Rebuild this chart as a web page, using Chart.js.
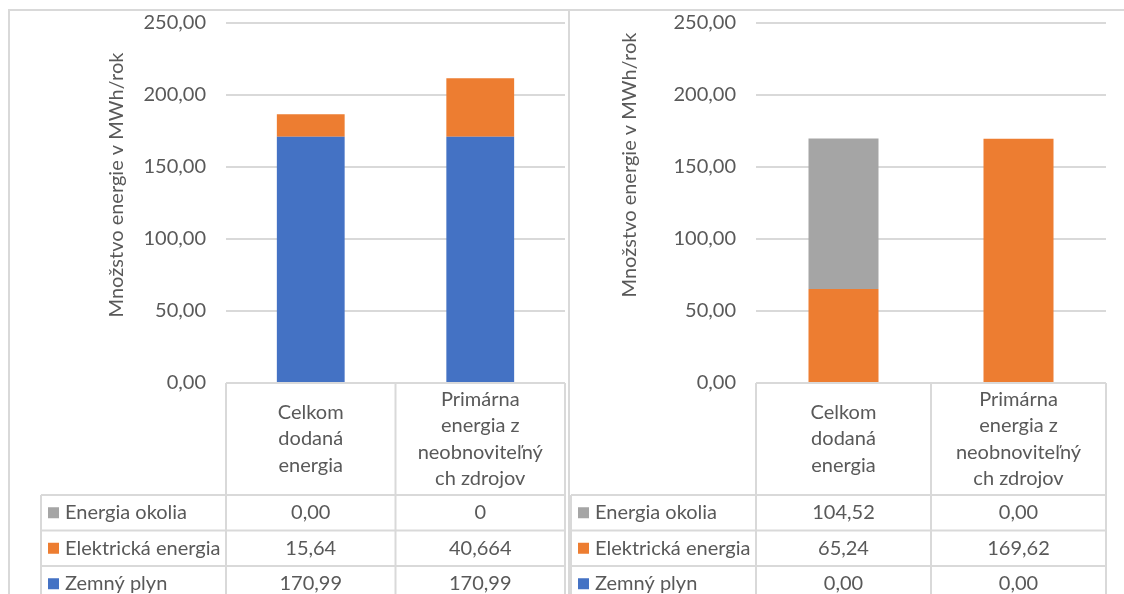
<!DOCTYPE html>
<html>
<head>
<meta charset="utf-8">
<script src="https://cdn.jsdelivr.net/npm/chart.js@4"></script>
<style>
  html, body { margin: 0; padding: 0; background: #fff; }
  #wrap { position: relative; width: 1124px; height: 594px; overflow: hidden; }
  .box { position: absolute; top: 0; height: 594px; }
  #boxLeft { left: 0; width: 568px; }
  #boxRight { left: 568px; width: 556px; }
</style>
</head>
<body>
<div id="wrap">
  <div class="box" id="boxLeft"><canvas id="leftChart"></canvas></div>
  <div class="box" id="boxRight"><canvas id="rightChart"></canvas></div>
</div>
<script>
const categories = [
  ["Celkom", "dodaná", "energia"],
  ["Primárna", "energia z", "neobnoviteľný", "ch zdrojov"],
];
const seriesNames = ["Zemný plyn", "Elektrická energia", "Energia okolia"];
const seriesColors = ["#4472C4", "#ED7D31", "#A5A5A5"];
const yTicks = [0, 50, 100, 150, 200, 250];
const axisTitle = "Množstvo energie v MWh/rok";

// lavy graf
const leftZemny = [170.99, 170.99];
const leftElektricka = [15.64, 40.664];
const leftOkolie = [0, 0];
const leftZemnyText = ["170,99", "170,99"];
const leftElektrickaText = ["15,64", "40,664"];
const leftOkolieText = ["0,00", "0"];

// pravy graf
const rightZemny = [0, 0];
const rightElektricka = [65.24, 169.62];
const rightOkolie = [104.52, 0];
const rightZemnyText = ["0,00", "0,00"];
const rightElektrickaText = ["65,24", "169,62"];
const rightOkolieText = ["104,52", "0,00"];

const FONT = "Lato, 'Open Sans', sans-serif";
const FONT_SIZE = 20;
const TEXT_COLOR = "#595959";
const LINE_COLOR = "#D9D9D9";

const tablePlugin = {
  id: "dataTable",
  beforeDraw(chart, args, opts) {
    const ctx = chart.ctx;
    ctx.save();
    ctx.strokeStyle = LINE_COLOR;
    ctx.lineWidth = 2;
    ctx.beginPath();
    ctx.moveTo(opts.frameLeft, 600);
    ctx.lineTo(opts.frameLeft, 10);
    ctx.lineTo(opts.frameRight, 10);
    ctx.stroke();
    ctx.restore();
  },
  afterDraw(chart, args, opts) {
    const ctx = chart.ctx;
    const area = chart.chartArea;
    const x = chart.scales.x;
    const n = chart.data.labels.length;
    const colW = (area.right - area.left) / n;
    const headTop = area.bottom;
    const headBottom = headTop + 112;
    const rowH = 35.5;
    const rowsBottom = headBottom + rowH * 3;

    ctx.save();
    ctx.strokeStyle = LINE_COLOR;
    ctx.lineWidth = 2;
    ctx.beginPath();
    // hlavicka
    ctx.moveTo(area.left, headTop);
    ctx.lineTo(area.right, headTop);
    for (let i = 0; i <= n; i++) {
      const cx = area.left + i * colW;
      ctx.moveTo(cx, headTop);
      ctx.lineTo(cx, rowsBottom + 10);
    }
    // riadky
    for (let r = 0; r <= 3; r++) {
      const y = headBottom + r * rowH;
      ctx.moveTo(opts.labelLeft, y);
      ctx.lineTo(area.right, y);
    }
    ctx.moveTo(opts.labelLeft, headBottom);
    ctx.lineTo(opts.labelLeft, rowsBottom + 10);
    ctx.stroke();

    ctx.fillStyle = TEXT_COLOR;
    ctx.font = FONT_SIZE + "px " + FONT;
    ctx.textBaseline = "middle";
    ctx.textAlign = "center";

    // nazvy kategorii
    const lineH = 26.5;
    chart.data.labels.forEach((lines, i) => {
      const cx = x.getPixelForValue(i);
      const mid = (headTop + headBottom) / 2;
      const start = mid - (lines.length - 1) * lineH / 2;
      lines.forEach((t, k) => ctx.fillText(t, cx, start + k * lineH));
    });

    // riadky tabulky (od vrchu: posledny dataset)
    const ds = chart.data.datasets.slice().reverse();
    const texts = opts.texts.slice().reverse();
    ds.forEach((d, r) => {
      const cy = headBottom + r * rowH + rowH / 2;
      ctx.fillStyle = d.backgroundColor;
      ctx.fillRect(opts.labelLeft + 7, cy - 5.5, 11, 11);
      ctx.fillStyle = TEXT_COLOR;
      ctx.textAlign = "left";
      ctx.fillText(d.label, opts.labelLeft + 24, cy);
      ctx.textAlign = "center";
      texts[r].forEach((t, i) => ctx.fillText(t, x.getPixelForValue(i), cy));
    });

    // nazov osi
    ctx.translate(opts.titleX, opts.titleY);
    ctx.rotate(-Math.PI / 2);
    ctx.textAlign = "center";
    ctx.fillText(axisTitle, 0, 0);
    ctx.restore();
  },
};

function makeChart(canvasId, zemny, elektricka, okolie, texts, geom) {
  const values = [zemny, elektricka, okolie];
  return new Chart(document.getElementById(canvasId).getContext("2d"), {
    type: "bar",
    data: {
      labels: categories,
      datasets: seriesNames.map((name, i) => ({
        label: name,
        data: values[i],
        backgroundColor: seriesColors[i],
        borderWidth: 0,
        categoryPercentage: 1,
        barPercentage: 0.4,
      })),
    },
    options: {
      responsive: true,
      maintainAspectRatio: false,
      animation: false,
      layout: {
        padding: {
          left: geom.labelLeft,
          top: 23,
          right: geom.padRight,
          bottom: 594 - 383,
        },
      },
      plugins: {
        legend: { display: false },
        tooltip: { enabled: false },
        dataTable: {
          texts: texts,
          labelLeft: geom.labelLeft,
          frameLeft: geom.frameLeft,
          frameRight: geom.frameRight,
          titleX: geom.titleX,
          titleY: geom.titleY,
        },
      },
      scales: {
        x: {
          stacked: true,
          display: false,
        },
        y: {
          stacked: true,
          min: 0,
          max: 250,
          afterBuildTicks: (scale) => {
            scale.ticks = yTicks.map((v) => ({ value: v }));
          },
          afterFit: (scale) => {
            scale.width = 185;
            scale.paddingTop = 0;
            scale.paddingBottom = 0;
          },
          border: { display: false },
          grid: {
            color: LINE_COLOR,
            lineWidth: 2,
            drawTicks: false,
          },
          ticks: {
            padding: 20,
            color: TEXT_COLOR,
            font: { family: FONT, size: FONT_SIZE },
            callback: (v) => v.toFixed(2).replace(".", ","),
          },
        },
      },
    },
    plugins: [tablePlugin],
  });
}

makeChart("leftChart", leftZemny, leftElektricka, leftOkolie,
  [leftZemnyText, leftElektrickaText, leftOkolieText],
  { labelLeft: 41, padRight: 3, frameLeft: 9, frameRight: 568, titleX: 117, titleY: 185 });

makeChart("rightChart", rightZemny, rightElektricka, rightOkolie,
  [rightZemnyText, rightElektrickaText, rightOkolieText],
  { labelLeft: 3, padRight: 18, frameLeft: 1, frameRight: 560, titleX: 62, titleY: 165 });
</script>
</body>
</html>
